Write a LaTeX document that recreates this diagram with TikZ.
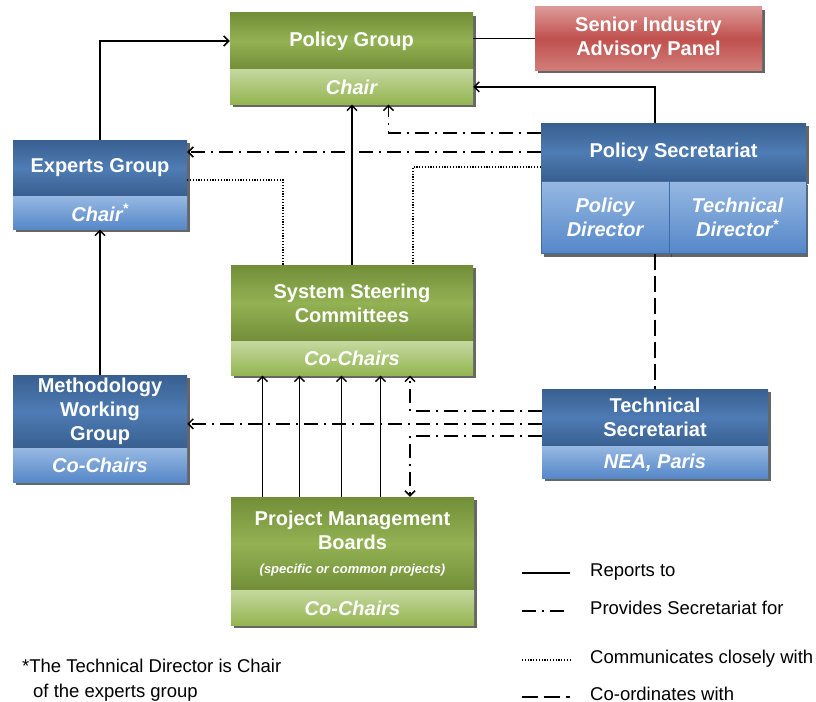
\documentclass[tikz,border=0pt]{standalone}
\usepackage{fontspec}
\setmainfont{Liberation Sans}
\usepackage{tikz}
\usetikzlibrary{positioning, arrows.meta, shadows}

\definecolor{olivedark}{HTML}{728E38}
\definecolor{olivemid}{HTML}{93B253}
\definecolor{olivepale}{HTML}{C4D89E}
\definecolor{olivebar}{HTML}{94B551}
\definecolor{navydark}{HTML}{385F90}
\definecolor{navymid}{HTML}{4E7CB4}
\definecolor{skypale}{HTML}{96B8E2}
\definecolor{skybar}{HTML}{5587C8}
\definecolor{skyedge}{HTML}{3F6DAA}
\definecolor{reddark}{HTML}{C0504D}
\definecolor{redpale}{HTML}{DC9A97}

\tikzset{
  box/.style={inner sep=0pt, align=center, text=white,
    drop shadow={shadow xshift=2.5pt, shadow yshift=-3pt, fill=black!75, opacity=.8}},
  head/.style={box, font=\fontsize{20}{24}\selectfont\bfseries},
  band/.style={box, font=\fontsize{20}{24}\selectfont\bfseries\itshape},
  greenhead/.style={head, top color=olivedark, bottom color=olivedark, middle color=olivemid},
  greenband/.style={band, top color=olivepale, bottom color=olivebar},
  bluehead/.style={head, top color=navydark, bottom color=navydark, middle color=navymid},
  blueband/.style={band, top color=skypale, bottom color=skybar},
  redbox/.style={head, top color=redpale, bottom color=redpale!60!reddark, middle color=reddark},
  link/.style={line width=1.5pt},
  secline/.style={link, dash pattern=on 14pt off 6pt on 2pt off 6pt},
  commline/.style={link, line width=1.3pt, dash pattern=on 1.2pt off 1.6pt},
  coordline/.style={link, dash pattern=on 16pt off 6pt},
  keytext/.style={inner sep=0pt, anchor=base west, font=\fontsize{18.5}{25}\selectfont}
}

\begin{document}
\begin{tikzpicture}[x=1pt, y=-1pt, >={Straight Barb[length=5pt,width=10pt]}]
\useasboundingbox (0,0) rectangle (816,701);

% groups and committees
\node[greenhead, minimum width=243pt, minimum height=56pt] (polgrp) at (351.5,41) {Policy Group};
\node[greenband, minimum width=243pt, minimum height=35pt, below=0pt of polgrp] (polgrp-chair) {Chair};
\node[redbox, minimum width=227pt, minimum height=63pt] (senior) at (648.5,38.5) {Senior Industry\\Advisory Panel};
\node[bluehead, minimum width=174pt, minimum height=56pt] (expgrp) at (100,168) {Experts Group};
\node[blueband, minimum width=174pt, minimum height=33pt, below=0pt of expgrp] (expgrp-chair) {Chair\textsuperscript{*}};
\node[bluehead, minimum width=265pt, minimum height=58pt] (polsec) at (673.5,152) {Policy Secretariat};
\node[blueband, draw=skyedge, line width=.6pt, minimum width=128pt, minimum height=72pt, anchor=north west] (poldir) at (polsec.south west) {Policy\\Director};
\node[blueband, draw=skyedge, line width=.6pt, minimum width=137pt, minimum height=72pt, anchor=north east] (techdir) at (polsec.south east) {Technical\\Director\textsuperscript{*}};
\node[greenhead, minimum width=242pt, minimum height=76pt] (ssc) at (352,303) {System Steering\\Committees};
\node[greenband, minimum width=242pt, minimum height=34pt, below=0pt of ssc] (ssc-chairs) {Co-Chairs};
\node[bluehead, minimum width=174pt, minimum height=73pt] (mwg) at (100,411.5) {Methodology\\Working\\Group};
\node[blueband, minimum width=174pt, minimum height=34pt, below=0pt of mwg] (mwg-chairs) {Co-Chairs};
\node[bluehead, minimum width=226pt, minimum height=57pt] (techsec) at (655,417.5) {Technical\\Secretariat};
\node[blueband, minimum width=226pt, minimum height=32pt, below=0pt of techsec] (techsec-nea) {NEA, Paris};
\node[greenhead, minimum width=243pt, minimum height=93pt] (pmb) at (352.5,543.5) {Project Management\\Boards\\{\fontsize{13}{15}\selectfont\itshape(specific or common projects)}};
\node[greenband, minimum width=243pt, minimum height=35pt, below=0pt of pmb] (pmb-chairs) {Co-Chairs};

% reports to
\draw[link, ->] (expgrp.north) |- (polgrp.west);
\draw[link] (senior.west -| polgrp.east) -- (senior.west);
\draw[link, ->] (polsec.north -| techsec.north) |- (polgrp-chair.east);
\draw[link, ->] (ssc.north) -- (ssc.north |- polgrp-chair.south);
\draw[link, ->] (mwg.north) -- (expgrp-chair.south);
\foreach \dx in {-90,-53,-11,28}
  \draw[link, ->] ([xshift=\dx pt]pmb.north) -- ([xshift=\dx pt]pmb.north |- ssc-chairs.south);

% provides secretariat for
\draw[secline, ->] ([yshift=-10pt]polsec.north west) -| ([xshift=37pt]polgrp-chair.south);
\draw[secline, ->] (polsec.west) -- (polsec.west -| expgrp.east);
\draw[secline, ->] ([yshift=-22pt]techsec.north west) -| ([xshift=58pt]ssc-chairs.south);
\draw[secline, ->] ([yshift=-35pt]techsec.north west) -- ([yshift=-35pt]techsec.north west -| mwg.east);
\draw[secline, ->] ([yshift=-47pt]techsec.north west) -| ([xshift=57.5pt]pmb.north);

% communicates / co-ordinates
\draw[commline] ([yshift=-12pt]expgrp.east) -| ([xshift=-69pt]ssc.north);
\draw[commline] ([yshift=-15pt]polsec.west) -| ([xshift=61pt]ssc.north);
\draw[coordline] (poldir.south -| techsec.north) -- (techsec.north);

% key
\foreach \st/\yy/\txt [count=\i] in {link/573/Reports to, secline/611/Provides Secretariat for, commline/660/Communicates closely with, coordline/697/Co-ordinates with}{
  \coordinate (key\i) at (522,\yy);
  \node[keytext] (keytxt\i) at (590,\yy+3) {\txt};
  \draw[\st] (key\i) -- ++(48,0);
}
\node[keytext] (note1) at (22,672) {*The Technical Director is Chair};
\node[keytext] (note2) at (33,697) {of the experts group};
\end{tikzpicture}
\end{document}
